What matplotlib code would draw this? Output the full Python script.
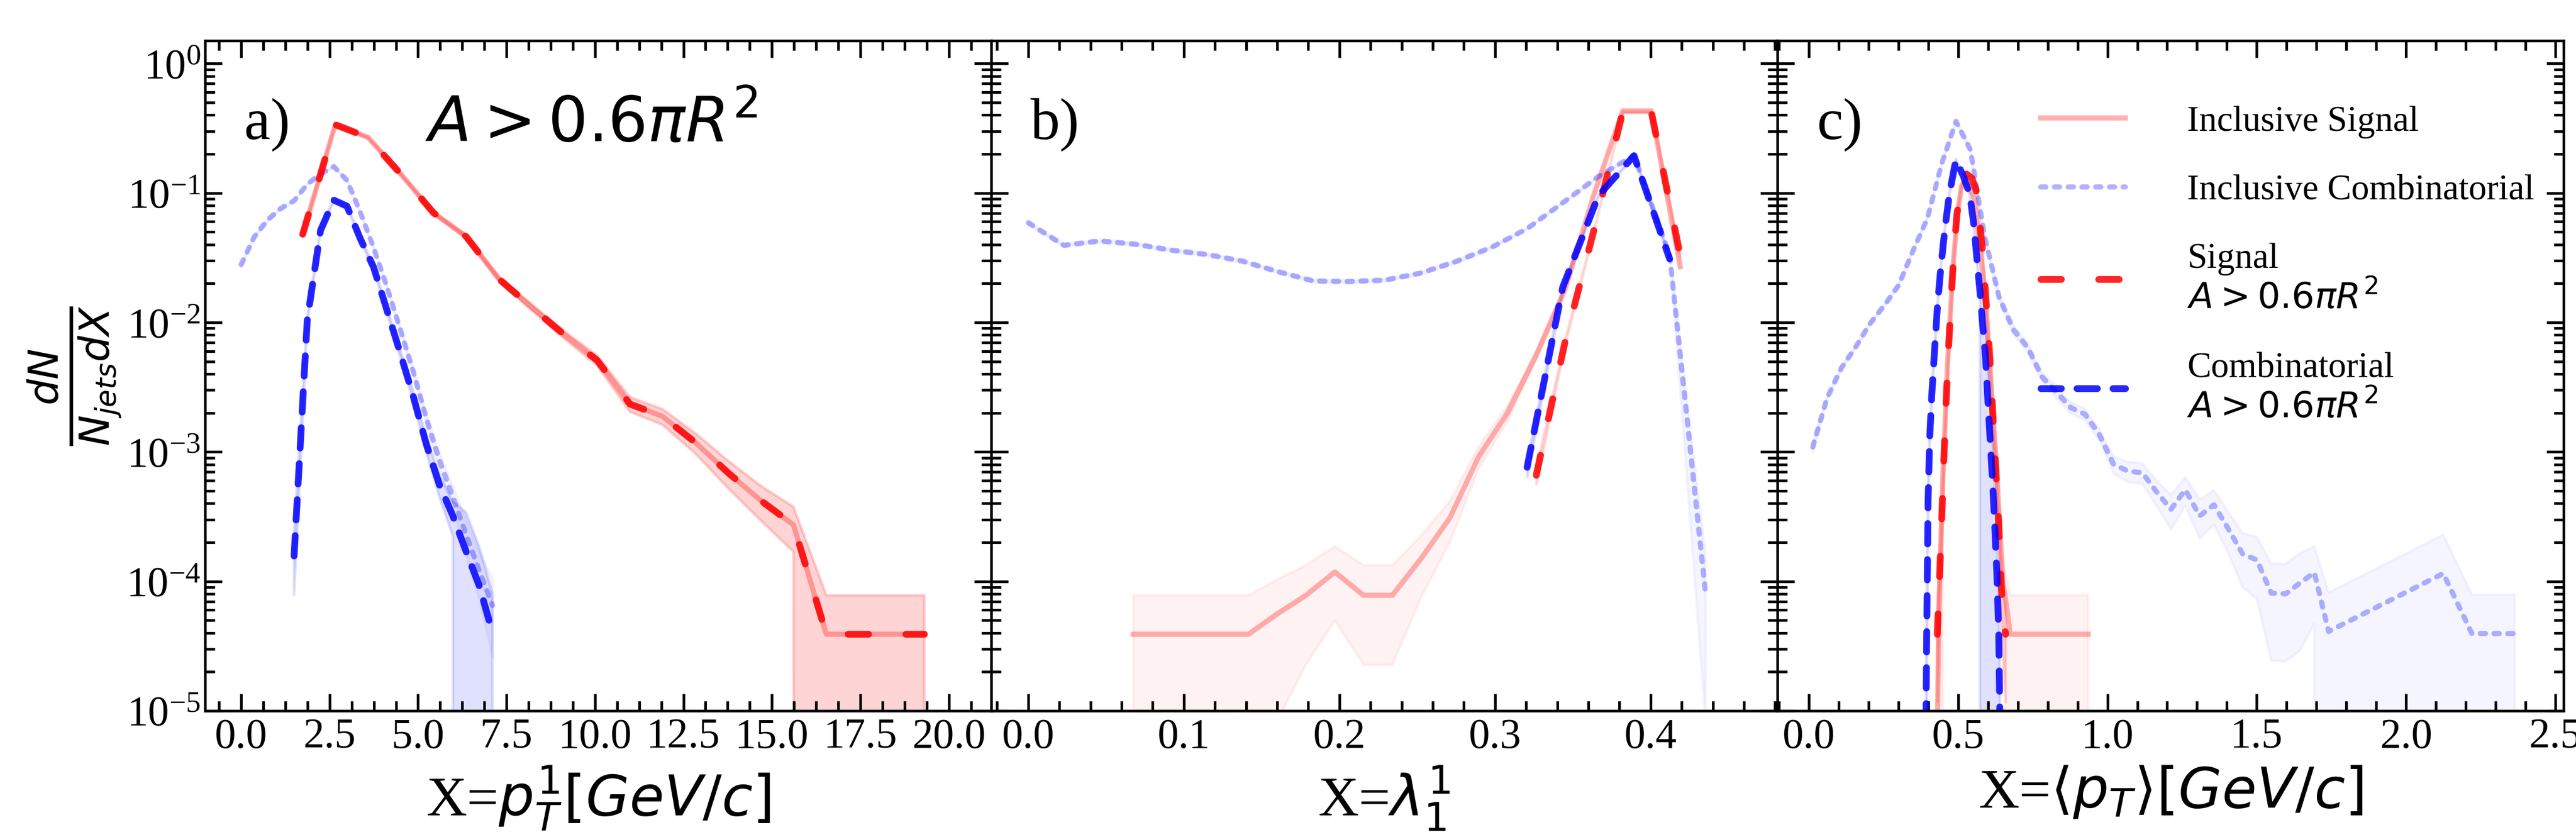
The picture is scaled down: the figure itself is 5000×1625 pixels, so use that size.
"""
Leading-track pT, lambda and mean pT distributions, signal vs combinatorial jets
"""

import matplotlib.pyplot as plt
import numpy as np
from matplotlib.ticker import AutoMinorLocator, MultipleLocator, FormatStrFormatter

plt.rcParams["font.family"] = "Liberation Serif"
plt.rcParams["mathtext.fontset"] = "dejavusans"

# ---------------- panel a) : X = p_T^1 ----------------
sig_a_x = [1.74, 2.66, 3.59, 4.51, 5.44, 6.36, 7.29, 8.21, 9.14, 10.06,
           10.99, 11.91, 12.84, 13.76, 14.69, 15.61, 16.54, 17.46, 18.39, 19.31]
incl_sig_a = [0.048, 0.337, 0.268, 0.140, 0.070, 0.046, 0.0216, 0.0131, 0.0080,
              5.1e-3, 2.34e-3, 1.88e-3, 1.18e-3, 6.9e-4, 4.2e-4, 2.73e-4,
              3.9e-5, 3.9e-5, 3.9e-5, 3.9e-5]
sig_a = [0.048, 0.337, 0.268, 0.140, 0.070, 0.046, 0.0216, 0.0131, 0.0080,
         5.1e-3, 2.34e-3, 1.88e-3, 1.18e-3, 6.9e-4, 4.2e-4, 2.73e-4,
         3.9e-5, 3.9e-5, 3.9e-5, 3.9e-5]
sig_a_err = [0.03, 0.01, 0.012, 0.017, 0.023, 0.03, 0.042, 0.054, 0.07, 0.09,
             0.13, 0.14, 0.18, 0.24, 0.3, 0.38, 1.0, 1.0, 1.0, 1.0]

comb_a_x = [0.0, 0.374, 0.748, 1.122, 1.496, 1.87, 2.244, 2.618, 2.992, 3.366,
            3.74, 4.114, 4.488, 4.862, 5.236, 5.61, 5.984, 6.358, 6.732, 7.106]
incl_comb_a = [0.028, 0.046, 0.062, 0.076, 0.087, 0.117, 0.14, 0.16, 0.125,
               0.071, 0.038, 0.019, 9.0e-3, 4.2e-3, 1.8e-3, 8.5e-4, 4.5e-4,
               2.3e-4, 1.2e-4, 6.5e-5]
incl_comb_a_err = [0.04, 0.03, 0.03, 0.02, 0.02, 0.02, 0.02, 0.02, 0.02, 0.02,
                   0.03, 0.04, 0.05, 0.07, 0.1, 0.15, 0.2, 0.3, 0.4, 0.6]

comb_cut_a_x = [1.496, 1.87, 2.244, 2.618, 2.992, 3.366, 3.74, 4.114, 4.488,
                4.862, 5.236, 5.61, 5.984, 6.358, 6.732, 7.106]
comb_cut_a = [1.57e-4, 0.0105, 0.0513, 0.088, 0.079, 0.0444, 0.0268, 0.0126,
              5.9e-3, 2.7e-3, 1.14e-3, 5.5e-4, 3.2e-4, 1.7e-4, 9.2e-5, 4.0e-5]
comb_cut_a_err = [0.5, 0.06, 0.03, 0.02, 0.02, 0.03, 0.04, 0.05, 0.07, 0.1,
                  0.14, 0.2, 0.3, 1.0, 1.0, 1.0]

# ---------------- panel b) : X = lambda_1^1 ----------------
incl_sig_b_x = [0.0675, 0.086, 0.1045, 0.123, 0.1415, 0.16, 0.1785, 0.197,
                0.2155, 0.234, 0.2525, 0.271, 0.2895, 0.308, 0.3265, 0.345,
                0.3635, 0.382, 0.4005, 0.419]
incl_sig_b = [3.9e-5, 3.9e-5, 3.9e-5, 3.9e-5, 3.9e-5, 5.6e-5, 7.8e-5, 1.18e-4,
              7.8e-5, 7.8e-5, 1.5e-4, 3.1e-4, 9.2e-4, 2.0e-3, 5.6e-3, 0.018,
              0.097, 0.43, 0.43, 0.027]
incl_sig_b_err = [1.0, 1.0, 1.0, 1.0, 1.0, 0.85, 0.71, 0.58, 0.71, 0.71, 0.5,
                  0.35, 0.2, 0.14, 0.08, 0.05, 0.02, 0.01, 0.01, 0.04]

sig_b_x = [0.3265, 0.345, 0.3635, 0.382, 0.4005, 0.419]
sig_b = [6.6e-4, 7.1e-3, 0.0513, 0.42, 0.42, 0.033]
sig_b_err = [0.15, 0.05, 0.02, 0.01, 0.01, 0.03]

incl_comb_b_x = [0.0, 0.0229, 0.0458, 0.0687, 0.0916, 0.1145, 0.1374, 0.1603,
                 0.1832, 0.2061, 0.229, 0.2519, 0.2748, 0.2977, 0.3206,
                 0.3435, 0.3664, 0.3893, 0.4122, 0.4351]
incl_comb_b = [0.0588, 0.0394, 0.0426, 0.0402, 0.0362, 0.0335, 0.0298, 0.0247,
               0.0209, 0.0207, 0.0212, 0.024, 0.0295, 0.038, 0.053, 0.084,
               0.134, 0.195, 0.0333, 8.5e-5]
incl_comb_b_err = [0.03, 0.03, 0.03, 0.03, 0.03, 0.03, 0.03, 0.03, 0.03, 0.03,
                   0.03, 0.03, 0.03, 0.03, 0.02, 0.02, 0.02, 0.02, 0.04, 0.9]

comb_cut_b_x = [0.3206, 0.3435, 0.3664, 0.3893, 0.4122]
comb_cut_b = [7.6e-4, 0.0187, 0.095, 0.194, 0.031]
comb_cut_b_err = [0.15, 0.04, 0.02, 0.015, 0.04]

# ---------------- panel c) : X = <p_T> ----------------
incl_sig_c_x = [0.4305, 0.4349, 0.442, 0.449, 0.4563, 0.4634, 0.4741, 0.4848,
                0.499, 0.5112, 0.524, 0.5385, 0.5528, 0.567, 0.5814, 0.5922,
                0.603, 0.61, 0.6187, 0.6281, 0.635, 0.6423, 0.6494, 0.6566,
                0.6745, 0.9355]
incl_sig_c = [8e-6, 5.5e-5, 2.0e-4, 6.9e-4, 1.75e-3, 4.45e-3, 0.0122, 0.031,
              0.0734, 0.113, 0.126, 0.113, 0.0912, 0.0513, 0.025, 0.014,
              5.9e-3, 3.3e-3, 1.63e-3, 7.9e-4, 3.9e-4, 2.0e-4, 9.8e-5, 7.9e-5,
              3.9e-5, 3.9e-5]
incl_sig_c_err = [1.0, 1.0, 1.0, 0.4, 0.2, 0.1, 0.05, 0.03, 0.02, 0.02, 0.02,
                  0.02, 0.02, 0.03, 0.04, 0.05, 0.08, 0.1, 0.15, 0.2, 0.3,
                  0.4, 0.55, 0.6, 1.0, 1.0]

sig_c_x = [0.4298, 0.4384, 0.4455, 0.4527, 0.4598, 0.467, 0.4756, 0.4848,
           0.4957, 0.51, 0.5278, 0.5457, 0.56, 0.5707, 0.5814, 0.5901, 0.5994,
           0.6065, 0.6137, 0.6207, 0.6281, 0.635, 0.6423, 0.6494, 0.6587]
sig_c = [3.9e-5, 1.22e-4, 3.34e-4, 9.8e-4, 2.5e-3, 5.9e-3, 0.014, 0.0333,
         0.0684, 0.113, 0.14, 0.13, 0.105, 0.0636, 0.0358, 0.0188, 9.1e-3,
         5.1e-3, 2.5e-3, 1.22e-3, 5.9e-4, 2.9e-4, 1.14e-4, 5.5e-5, 3.9e-5]
sig_c_err = [0.7, 0.4, 0.25, 0.15, 0.1, 0.06, 0.04, 0.03, 0.02, 0.02, 0.02,
             0.02, 0.02, 0.02, 0.03, 0.04, 0.06, 0.08, 0.1, 0.15, 0.2, 0.3,
             0.45, 0.6, 0.7]

incl_comb_c_x = [0.0127, 0.0607, 0.1087, 0.1567, 0.2047, 0.2527, 0.3007,
                 0.3487, 0.3967, 0.4447, 0.4927, 0.5407, 0.5887, 0.6367,
                 0.6847, 0.7327, 0.7807, 0.8287, 0.8767, 0.9247, 0.9727,
                 1.0207, 1.0687, 1.1167, 1.1647, 1.2127, 1.2607, 1.3087,
                 1.3567, 1.4047, 1.4527, 1.5007, 1.5487, 1.5967, 1.6447,
                 1.6927, 1.7407, 2.1247, 2.2207, 2.2687, 2.3167, 2.3647]
incl_comb_c = [1.09e-3, 2.6e-3, 4.45e-3, 6.46e-3, 9.8e-3, 0.01355, 0.0194,
               0.0358, 0.0636, 0.168, 0.357, 0.216, 0.046, 0.0157, 8.8e-3,
               6.4e-3, 3.8e-3, 2.9e-3, 2.2e-3, 1.95e-3, 1.36e-3, 8.0e-4,
               7.1e-4, 6.9e-4, 4.9e-4, 3.6e-4, 5.1e-4, 3.2e-4, 3.9e-4,
               2.54e-4, 1.63e-4, 1.46e-4, 8.1e-5, 8.0e-5, 9.7e-5, 1.17e-4,
               4.1e-5, 1.15e-4, 3.95e-5, 3.95e-5, 3.95e-5, 3.95e-5]
incl_comb_c_err = [0.1, 0.03, 0.03, 0.03, 0.03, 0.03, 0.03, 0.03, 0.03, 0.03,
                   0.03, 0.03, 0.04, 0.06, 0.08, 0.08, 0.08, 0.1, 0.1, 0.1,
                   0.1, 0.15, 0.18, 0.18, 0.22, 0.3, 0.25, 0.33, 0.3, 0.35,
                   0.45, 0.5, 0.7, 0.7, 0.7, 0.6, 1.0, 1.0, 1.0, 1.0, 1.0, 1.0]

comb_cut_c_x = [0.3919, 0.3955, 0.3991, 0.4041, 0.4112, 0.4205, 0.4312,
                0.442, 0.4563, 0.4705, 0.492, 0.5171, 0.5385, 0.5514, 0.5614,
                0.5728, 0.5828, 0.5922, 0.5994, 0.6072, 0.6158, 0.623,
                0.6301, 0.6358, 0.6401]
comb_cut_c = [7.9e-6, 6.9e-5, 4.1e-4, 1.22e-3, 2.69e-3, 5.93e-3, 0.01405,
              0.0268, 0.0551, 0.098, 0.18, 0.135, 0.098, 0.0592, 0.0333,
              0.0174, 9.1e-3, 5.14e-3, 2.5e-3, 1.22e-3, 5.5e-4, 2.5e-4,
              1.06e-4, 3.9e-5, 7.9e-6]
comb_cut_c_err = [1.0, 0.6, 0.3, 0.15, 0.1, 0.07, 0.05, 0.03, 0.03, 0.02,
                  0.02, 0.02, 0.02, 0.03, 0.04, 0.05, 1.0, 1.0, 1.0, 1.0, 1.0,
                  1.0, 1.0, 1.0, 1.0]

panel_tag = ["a)", "b)", "c)"]
x_labels = [r"X=$p_{T}^{1}[GeV/c]$", r"X=$\lambda_{1}^{1}$",
            r"X=$\langle p_{T}\rangle[GeV/c]$"]
x_limits = [(-1.02, 21.2), (-0.0238, 0.4815), (-0.1055, 2.528)]
x_major = [2.5, 0.1, 0.5]
x_minor_div = [4, 5, 5]
cut_text = r"$A > 0.6\pi R^2$"

panels = [
    dict(incl_sig=(sig_a_x, incl_sig_a, sig_a_err),
         incl_comb=(comb_a_x, incl_comb_a, incl_comb_a_err),
         sig=(sig_a_x, sig_a, sig_a_err),
         comb=(comb_cut_a_x, comb_cut_a, comb_cut_a_err)),
    dict(incl_sig=(incl_sig_b_x, incl_sig_b, incl_sig_b_err),
         incl_comb=(incl_comb_b_x, incl_comb_b, incl_comb_b_err),
         sig=(sig_b_x, sig_b, sig_b_err),
         comb=(comb_cut_b_x, comb_cut_b, comb_cut_b_err)),
    dict(incl_sig=(incl_sig_c_x, incl_sig_c, incl_sig_c_err),
         incl_comb=(incl_comb_c_x, incl_comb_c, incl_comb_c_err),
         sig=(sig_c_x, sig_c, sig_c_err),
         comb=(comb_cut_c_x, comb_cut_c, comb_cut_c_err)),
]


def band(axis, data, color, alpha):
    x, y, rel = (np.asarray(v, dtype=float) for v in data)
    lo = np.clip(y * (1 - rel), 0, None)
    axis.fill_between(x, lo, y * (1 + rel), color=color, alpha=alpha, lw=1.5)


fig, ax = plt.subplots(1, 3, figsize=(20, 6.5), sharey=True)
fig.subplots_adjust(left=0.0796, right=0.9952, bottom=0.1508, top=0.9514,
                    wspace=0)

for i, axis in enumerate(ax):
    p = panels[i]
    axis.set_yscale("log")

    band(axis, p["incl_sig"], "red", 0.05)
    band(axis, p["incl_comb"], "blue", 0.04)
    band(axis, p["sig"], "red", 0.12)
    band(axis, p["comb"], "blue", 0.12)

    axis.plot(p["incl_sig"][0], p["incl_sig"][1], color="red", alpha=0.3,
              lw=2.9, label="Inclusive Signal")
    axis.plot(p["incl_comb"][0], p["incl_comb"][1], color="blue", alpha=0.3,
              lw=2.9, ls=":", dash_capstyle="round",
              label="Inclusive Combinatorial")
    axis.plot(p["sig"][0], p["sig"][1], color="red", alpha=0.85, lw=3.8,
              ls=(0, (3, 5.5)), dash_capstyle="round",
              label="Signal\n" + cut_text)
    axis.plot(p["comb"][0], p["comb"][1], color="blue", alpha=0.85, lw=3.8,
              ls=(0, (3, 2.3)), dash_capstyle="round",
              label="Combinatorial\n" + cut_text)

    axis.set_xlim(x_limits[i])
    axis.set_ylim(1e-5, 1.5)
    axis.xaxis.set_major_locator(MultipleLocator(x_major[i]))
    axis.xaxis.set_major_formatter(FormatStrFormatter("%.1f"))
    axis.xaxis.set_minor_locator(AutoMinorLocator(x_minor_div[i]))
    axis.tick_params(which="both", direction="in", top=True, right=True,
                     width=1.5, labelsize=23.5, pad=4)
    axis.tick_params(which="major", length=9.5)
    axis.tick_params(which="minor", length=5.5)
    for spine in axis.spines.values():
        spine.set_linewidth(1.5)
    axis.set_xlabel(x_labels[i], fontsize=31.5, labelpad=4)
    axis.text(0.05, 0.875, panel_tag[i], transform=axis.transAxes,
              fontsize=33, va="center")

ax[0].set_ylabel(r"$\frac{dN}{N_{jets}dX}$", fontsize=33)
ax[0].yaxis.set_label_coords(-0.105, 0.5)
ax[0].tick_params(axis="y", pad=2.5)
ax[0].text(0.28, 0.85, cut_text, transform=ax[0].transAxes, fontsize=35,
           va="baseline")

ax[2].legend(loc="upper left", bbox_to_anchor=(0.335, 0.903), frameon=False,
             fontsize=20, borderpad=0, borderaxespad=0, handlelength=2.36,
             handletextpad=1.73, labelspacing=1.0)

fig.savefig("out.png", dpi=250)
plt.close(fig)
